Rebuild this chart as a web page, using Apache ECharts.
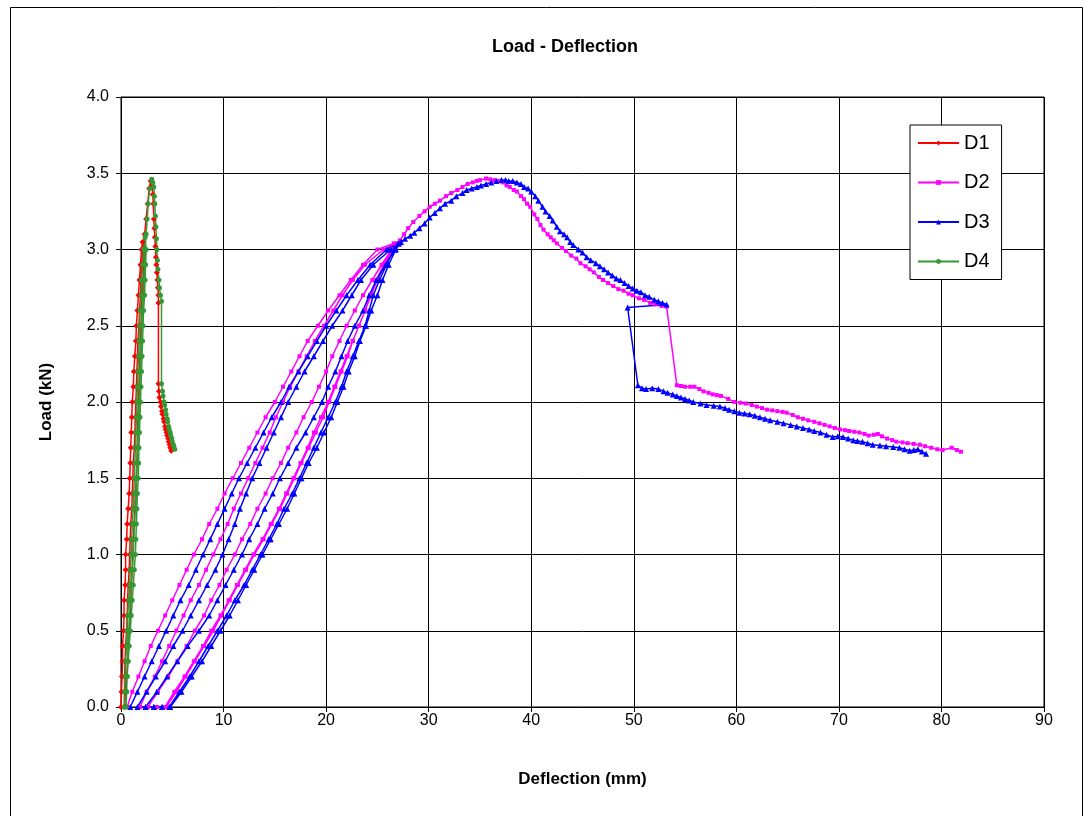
<!DOCTYPE html>
<html>
<head>
<meta charset="utf-8">
<script src="https://cdn.jsdelivr.net/npm/echarts@6/dist/echarts.min.js"></script>
<style>
  html, body { margin: 0; padding: 0; background: #fff; }
  #chart { width: 1084px; height: 816px; }
</style>
</head>
<body>
<div id="chart"></div>
<script>
const seriesNames = ['D1', 'D2', 'D3', 'D4']
const seriesColors = ['#ff0000', '#ff00ff', '#0000ff', '#339933']

// [deflection mm, load kN]
const d1Points = [
  [0.0, 0], [0.05, 0.1], [0.1, 0.2], [0.15, 0.3], [0.15, 0.4], [0.25, 0.5], [0.3, 0.6], [0.3, 0.7],
  [0.4, 0.8], [0.45, 0.9], [0.45, 1.0], [0.55, 1.1], [0.6, 1.2], [0.7, 1.3], [0.8, 1.4], [0.85, 1.5],
  [0.9, 1.6], [0.95, 1.7], [1.0, 1.8], [1.05, 1.9], [1.1, 2.0], [1.2, 2.1], [1.25, 2.2], [1.35, 2.3],
  [1.45, 2.4], [1.5, 2.5], [1.6, 2.6], [1.7, 2.7], [1.8, 2.8], [1.9, 2.9], [2.0, 3.0], [2.1, 3.05],
  [2.3, 3.0], [2.2, 2.9], [2.15, 2.8], [2.05, 2.7], [2.0, 2.6], [1.95, 2.5], [1.9, 2.4], [1.85, 2.3],
  [1.8, 2.2], [1.75, 2.1], [1.7, 2.0], [1.65, 1.9], [1.6, 1.8], [1.6, 1.7], [1.55, 1.6], [1.5, 1.5],
  [1.4, 1.4], [1.35, 1.3], [1.3, 1.2], [1.2, 1.1], [1.15, 1.0], [1.1, 0.9], [1.0, 0.8], [0.95, 0.7],
  [0.9, 0.6], [0.85, 0.5], [0.75, 0.4], [0.65, 0.3], [0.55, 0.2], [0.45, 0.1], [0.35, 0],
  [0.35, 0.1], [0.35, 0.2], [0.4, 0.3], [0.45, 0.4], [0.55, 0.5], [0.6, 0.6], [0.65, 0.7], [0.7, 0.8],
  [0.8, 0.9], [0.85, 1.0], [0.9, 1.1], [0.95, 1.2], [1.05, 1.3], [1.1, 1.4], [1.15, 1.5], [1.2, 1.6],
  [1.3, 1.7], [1.35, 1.8], [1.4, 1.9], [1.45, 2.0], [1.5, 2.1], [1.55, 2.2], [1.6, 2.3], [1.65, 2.4],
  [1.75, 2.5], [1.8, 2.6], [1.9, 2.7], [1.95, 2.8], [2.05, 2.9], [2.15, 3.0], [2.3, 3.1], [2.45, 3.2],
  [2.6, 3.3], [2.75, 3.4], [2.9, 3.45],
  [3.0, 3.42], [3.1, 3.36], [3.15, 3.3], [3.2, 3.2], [3.25, 3.14], [3.3, 3.08], [3.35, 3.02], [3.4, 2.95],
  [3.45, 2.9], [3.5, 2.85], [3.55, 2.8], [3.6, 2.75], [3.65, 2.7], [3.65, 2.65],
  [3.65, 2.12], [3.7, 2.07], [3.75, 2.03], [3.85, 2.0], [3.9, 1.97], [4.0, 1.94], [4.05, 1.92], [4.15, 1.89],
  [4.2, 1.87], [4.3, 1.84], [4.35, 1.82], [4.45, 1.8], [4.5, 1.78], [4.6, 1.76], [4.65, 1.74], [4.75, 1.72],
  [4.8, 1.7], [4.9, 1.68]
]

const d2Points = [
  [0.6, 0], [1.1, 0.1], [1.7, 0.2], [2.3, 0.3], [2.9, 0.4], [3.6, 0.5], [4.3, 0.6], [5.0, 0.7], [5.7, 0.8],
  [6.4, 0.9], [7.1, 1.0], [7.9, 1.1], [8.6, 1.2], [9.4, 1.3], [10.1, 1.4], [10.9, 1.5], [11.7, 1.6],
  [12.5, 1.7], [13.3, 1.8], [14.1, 1.9], [15.0, 2.0], [15.8, 2.1], [16.6, 2.2], [17.4, 2.3], [18.2, 2.4],
  [19.2, 2.5], [20.2, 2.6], [21.3, 2.7], [22.4, 2.8], [23.6, 2.9], [25.0, 3.0], [26.6, 3.04],
  [26.4, 3.0], [25.6, 2.9], [24.9, 2.8], [24.3, 2.7], [23.8, 2.6], [23.2, 2.5], [22.6, 2.4], [22.0, 2.3],
  [21.4, 2.2], [20.8, 2.1], [20.2, 2.0], [19.5, 1.9], [18.8, 1.8], [18.2, 1.7], [17.5, 1.6], [16.8, 1.5],
  [16.1, 1.4], [15.4, 1.3], [14.6, 1.2], [13.8, 1.1], [12.9, 1.0], [12.1, 0.9], [11.3, 0.8], [10.5, 0.7],
  [9.7, 0.6], [8.8, 0.5], [8.0, 0.4], [7.1, 0.3], [6.2, 0.2], [5.2, 0.1], [4.3, 0],
  [3.4, 0], [2.6, 0], [1.85, 0],
  [2.5, 0.1], [3.3, 0.2], [4.0, 0.3], [4.7, 0.4], [5.4, 0.5], [6.1, 0.6], [6.8, 0.7], [7.6, 0.8], [8.3, 0.9],
  [9.0, 1.0], [9.7, 1.1], [10.4, 1.2], [11.0, 1.3], [11.7, 1.4], [12.4, 1.5], [13.1, 1.6], [13.8, 1.7],
  [14.5, 1.8], [15.1, 1.9], [15.8, 2.0], [16.5, 2.1], [17.3, 2.2], [18.1, 2.3], [18.9, 2.4], [19.8, 2.5],
  [20.7, 2.6], [21.6, 2.7], [22.6, 2.8], [23.8, 2.9], [25.6, 3.0], [26.8, 3.04],
  [26.4, 3.0], [25.4, 2.9], [24.5, 2.8], [23.6, 2.7], [22.8, 2.6], [22.0, 2.5], [21.3, 2.4], [20.6, 2.3],
  [20.0, 2.2], [19.3, 2.1], [18.6, 2.0], [17.8, 1.9], [17.1, 1.8], [16.3, 1.7], [15.6, 1.6], [14.8, 1.5],
  [14.1, 1.4], [13.3, 1.3], [12.6, 1.2], [11.8, 1.1], [11.1, 1.0], [10.3, 0.9], [9.6, 0.8], [8.8, 0.7],
  [8.1, 0.6], [7.2, 0.5], [6.4, 0.4], [5.5, 0.3], [4.6, 0.2], [3.6, 0.1], [2.6, 0],
  [3.5, 0], [4.4, 0],
  [5.4, 0.1], [6.3, 0.2], [7.2, 0.3], [8.1, 0.4], [9.0, 0.5], [9.8, 0.6], [10.6, 0.7], [11.4, 0.8],
  [12.2, 0.9], [13.0, 1.0], [13.9, 1.1], [14.7, 1.2], [15.5, 1.3], [16.2, 1.4], [16.9, 1.5], [17.6, 1.6],
  [18.3, 1.7], [19.0, 1.8], [19.7, 1.9], [20.3, 2.0], [20.9, 2.1], [21.5, 2.2], [22.1, 2.3], [22.6, 2.4],
  [23.2, 2.5], [23.8, 2.6], [24.4, 2.7], [25.0, 2.8], [25.7, 2.9], [26.5, 3.0], [27.2, 3.06],
  [27.6, 3.1], [28.0, 3.14], [28.5, 3.18], [29.1, 3.22], [29.6, 3.25], [30.1, 3.28], [30.6, 3.3],
  [31.1, 3.32], [31.7, 3.35], [32.2, 3.37], [32.8, 3.39], [33.3, 3.41], [33.8, 3.43], [34.3, 3.44],
  [34.7, 3.45], [35.0, 3.455], [35.6, 3.465], [36.0, 3.46], [36.4, 3.455], [36.8, 3.45], [37.2, 3.44],
  [37.6, 3.42], [37.9, 3.41], [38.3, 3.39], [38.6, 3.38], [39.0, 3.35], [39.3, 3.33], [39.6, 3.3],
  [39.9, 3.28], [40.3, 3.23], [40.6, 3.2], [40.9, 3.16], [41.2, 3.13], [41.6, 3.1], [41.9, 3.08],
  [42.2, 3.06], [42.5, 3.04], [43.0, 3.01], [43.4, 2.99], [43.9, 2.96], [44.4, 2.94], [44.8, 2.91],
  [45.3, 2.89], [45.7, 2.87], [46.1, 2.85], [46.6, 2.82], [47.0, 2.8], [47.5, 2.78], [48.0, 2.76],
  [48.5, 2.74], [49.0, 2.73], [49.5, 2.71], [49.9, 2.7], [50.5, 2.68], [51.0, 2.67], [51.6, 2.65],
  [52.1, 2.64], [52.7, 2.63], [53.2, 2.625],
  [54.2, 2.11], [54.6, 2.105], [55.0, 2.1], [55.5, 2.1], [55.9, 2.1], [56.4, 2.085], [56.8, 2.07],
  [57.3, 2.06], [57.7, 2.05], [58.1, 2.045], [58.5, 2.04], [59.2, 2.02], [59.8, 2.0], [60.4, 1.995],
  [60.9, 1.99], [61.5, 1.98], [62.0, 1.97], [62.5, 1.96], [63.0, 1.95], [63.5, 1.945], [64.0, 1.94],
  [64.5, 1.935], [64.9, 1.93], [65.5, 1.915], [66.0, 1.9], [66.5, 1.89], [67.0, 1.88], [67.6, 1.87],
  [68.1, 1.86], [68.6, 1.85], [69.1, 1.84], [69.6, 1.83], [70.1, 1.82], [70.6, 1.815], [71.0, 1.81],
  [71.5, 1.805], [72.0, 1.8], [72.5, 1.79], [72.9, 1.78], [73.4, 1.785], [73.8, 1.79], [74.2, 1.775],
  [74.7, 1.76], [75.2, 1.75], [75.6, 1.74], [76.2, 1.735], [76.7, 1.73], [77.3, 1.725], [77.9, 1.72],
  [78.4, 1.71], [79.0, 1.7], [79.6, 1.69], [80.1, 1.685], [81.0, 1.7], [81.5, 1.685], [81.9, 1.674]
]

const d3Points = [
  [0.9, 0], [1.6, 0.1], [2.3, 0.2], [3.0, 0.3], [3.7, 0.4], [4.4, 0.5], [5.1, 0.6], [5.8, 0.7], [6.6, 0.8],
  [7.3, 0.9], [8.0, 1.0], [8.7, 1.1], [9.4, 1.2], [10.1, 1.3], [10.8, 1.4], [11.5, 1.5], [12.3, 1.6],
  [13.1, 1.7], [13.9, 1.8], [14.7, 1.9], [15.6, 2.0], [16.4, 2.1], [17.3, 2.2], [18.2, 2.3], [19.1, 2.4],
  [20.0, 2.5], [21.0, 2.6], [22.0, 2.7], [23.1, 2.8], [24.3, 2.9], [25.9, 3.0], [27.0, 3.04],
  [26.6, 3.0], [25.9, 2.9], [25.2, 2.8], [24.6, 2.7], [24.2, 2.6], [23.8, 2.5], [23.2, 2.4], [22.6, 2.3],
  [22.0, 2.2], [21.5, 2.1], [20.9, 2.0], [20.2, 1.9], [19.5, 1.8], [18.8, 1.7], [18.1, 1.6], [17.4, 1.5],
  [16.7, 1.4], [15.9, 1.3], [15.2, 1.2], [14.4, 1.1], [13.6, 1.0], [12.8, 0.9], [12.0, 0.8], [11.1, 0.7],
  [10.3, 0.6], [9.4, 0.5], [8.5, 0.4], [7.6, 0.3], [6.7, 0.2], [5.7, 0.1], [4.7, 0],
  [4.0, 0], [3.2, 0], [2.4, 0], [1.6, 0],
  [2.5, 0.1], [3.4, 0.2], [4.3, 0.3], [5.1, 0.4], [6.0, 0.5], [6.8, 0.6], [7.6, 0.7], [8.4, 0.8], [9.2, 0.9],
  [9.9, 1.0], [10.5, 1.1], [11.1, 1.2], [11.6, 1.3], [12.2, 1.4], [12.8, 1.5], [13.5, 1.6], [14.2, 1.7],
  [14.9, 1.8], [15.6, 1.9], [16.3, 2.0], [17.1, 2.1], [17.9, 2.2], [18.8, 2.3], [19.7, 2.4], [20.6, 2.5],
  [21.6, 2.6], [22.5, 2.7], [23.4, 2.8], [24.6, 2.9], [26.3, 3.0], [27.1, 3.04],
  [26.7, 3.0], [25.8, 2.9], [24.9, 2.8], [24.2, 2.7], [23.6, 2.6], [22.8, 2.5], [22.1, 2.4], [21.5, 2.3],
  [20.9, 2.2], [20.2, 2.1], [19.6, 2.0], [18.8, 1.9], [18.0, 1.8], [17.1, 1.7], [16.3, 1.6], [15.5, 1.5],
  [14.8, 1.4], [14.0, 1.3], [13.3, 1.2], [12.5, 1.1], [11.8, 1.0], [11.0, 0.9], [10.2, 0.8], [9.4, 0.7],
  [8.6, 0.6], [7.6, 0.5], [6.5, 0.4], [5.5, 0.3], [4.5, 0.2], [3.5, 0.1], [2.4, 0],
  [3.2, 0], [4.0, 0], [4.8, 0],
  [5.9, 0.1], [6.9, 0.2], [7.9, 0.3], [8.8, 0.4], [9.7, 0.5], [10.6, 0.6], [11.4, 0.7], [12.2, 0.8],
  [13.0, 0.9], [13.8, 1.0], [14.6, 1.1], [15.4, 1.2], [16.2, 1.3], [16.9, 1.4], [17.6, 1.5], [18.3, 1.6],
  [19.1, 1.7], [19.8, 1.8], [20.5, 1.9], [21.1, 2.0], [21.7, 2.1], [22.2, 2.2], [22.8, 2.3], [23.3, 2.4],
  [23.9, 2.5], [24.4, 2.6], [25.0, 2.7], [25.5, 2.8], [26.1, 2.9], [26.8, 3.0], [27.3, 3.05],
  [27.7, 3.07], [28.2, 3.09], [28.6, 3.11], [29.1, 3.14], [29.6, 3.17], [30.1, 3.21], [30.6, 3.24],
  [31.1, 3.27], [31.6, 3.3], [32.2, 3.32], [32.7, 3.35], [33.3, 3.37], [33.7, 3.39], [34.2, 3.4],
  [34.7, 3.41], [35.1, 3.42], [35.6, 3.43], [36.1, 3.44], [36.6, 3.45], [37.1, 3.456], [37.5, 3.455],
  [37.8, 3.45], [38.2, 3.45], [38.6, 3.44], [39.0, 3.43], [39.3, 3.41], [39.7, 3.4], [40.0, 3.38],
  [40.4, 3.35], [40.7, 3.32], [41.1, 3.28], [41.4, 3.25], [41.8, 3.22], [42.1, 3.19], [42.5, 3.15],
  [42.8, 3.12], [43.2, 3.1], [43.5, 3.08], [43.8, 3.05], [44.1, 3.03], [44.6, 3.0], [45.0, 2.98],
  [45.4, 2.95], [45.8, 2.93], [46.3, 2.91], [46.7, 2.89], [47.1, 2.87], [47.5, 2.85], [47.9, 2.83],
  [48.3, 2.81], [48.7, 2.8], [49.1, 2.78], [49.5, 2.76], [49.9, 2.745], [50.3, 2.73], [50.7, 2.72],
  [51.1, 2.7], [51.5, 2.69], [52.0, 2.67], [52.4, 2.66], [52.8, 2.65], [53.2, 2.64],
  [49.4, 2.62], [50.4, 2.11],
  [50.8, 2.09], [51.2, 2.085], [51.8, 2.09], [52.4, 2.085], [52.9, 2.07], [53.3, 2.06], [53.8, 2.05],
  [54.2, 2.04], [54.6, 2.03], [55.0, 2.02], [55.4, 2.01], [55.8, 2.0], [56.5, 1.99], [57.1, 1.98],
  [57.8, 1.975], [58.4, 1.97], [58.9, 1.96], [59.3, 1.95], [59.8, 1.94], [60.3, 1.93], [60.8, 1.925],
  [61.3, 1.92], [61.8, 1.91], [62.3, 1.9], [62.8, 1.89], [63.3, 1.88], [64.0, 1.87], [64.6, 1.86],
  [65.3, 1.85], [65.9, 1.84], [66.5, 1.83], [67.1, 1.82], [67.6, 1.81], [68.2, 1.8], [68.8, 1.785],
  [69.4, 1.77], [69.9, 1.775], [70.4, 1.77], [70.9, 1.76], [71.4, 1.75], [71.8, 1.745], [72.3, 1.74],
  [72.8, 1.73], [73.3, 1.72], [74.0, 1.715], [74.6, 1.71], [75.3, 1.705], [75.9, 1.7], [76.4, 1.69],
  [76.9, 1.68], [77.3, 1.685], [77.7, 1.69], [78.1, 1.675], [78.5, 1.66]
]

const d4Points = [
  [0.3, 0], [0.35, 0.1], [0.4, 0.2], [0.45, 0.3], [0.55, 0.4], [0.6, 0.5], [0.65, 0.6], [0.75, 0.7],
  [0.85, 0.8], [0.9, 0.9], [1.0, 1.0], [1.05, 1.1], [1.1, 1.2], [1.2, 1.3], [1.25, 1.4], [1.3, 1.5],
  [1.35, 1.6], [1.4, 1.7], [1.45, 1.8], [1.5, 1.9], [1.55, 2.0], [1.6, 2.1], [1.65, 2.2], [1.7, 2.3],
  [1.75, 2.4], [1.8, 2.5], [1.85, 2.6], [1.95, 2.7], [2.0, 2.8], [2.1, 2.9], [2.2, 3.0], [2.35, 3.08],
  [2.45, 3.0], [2.4, 2.9], [2.35, 2.8], [2.3, 2.7], [2.2, 2.6], [2.15, 2.5], [2.1, 2.4], [2.05, 2.3],
  [2.0, 2.2], [1.95, 2.1], [1.9, 2.0], [1.85, 1.9], [1.8, 1.8], [1.75, 1.7], [1.72, 1.6], [1.68, 1.5],
  [1.6, 1.4], [1.55, 1.3], [1.5, 1.2], [1.45, 1.1], [1.4, 1.0], [1.3, 0.9], [1.2, 0.8], [1.1, 0.7],
  [1.0, 0.6], [0.9, 0.5], [0.8, 0.4], [0.7, 0.3], [0.6, 0.2], [0.55, 0.1], [0.5, 0],
  [0.55, 0.1], [0.6, 0.2], [0.65, 0.3], [0.7, 0.4], [0.75, 0.5], [0.85, 0.6], [0.9, 0.7], [1.0, 0.8],
  [1.1, 0.9], [1.2, 1.0], [1.25, 1.1], [1.3, 1.2], [1.4, 1.3], [1.45, 1.4], [1.5, 1.5], [1.55, 1.6],
  [1.6, 1.7], [1.65, 1.8], [1.7, 1.9], [1.75, 2.0], [1.8, 2.1], [1.85, 2.2], [1.9, 2.3], [1.95, 2.4],
  [2.0, 2.5], [2.05, 2.6], [2.15, 2.7], [2.2, 2.8], [2.3, 2.9], [2.35, 3.0], [2.45, 3.1], [2.55, 3.2],
  [2.65, 3.3], [2.8, 3.4], [3.0, 3.46],
  [3.1, 3.44], [3.2, 3.41], [3.25, 3.35], [3.3, 3.3], [3.35, 3.22], [3.4, 3.15], [3.45, 3.07], [3.5, 3.0],
  [3.55, 2.93], [3.6, 2.87], [3.7, 2.8], [3.75, 2.75], [3.85, 2.7], [3.95, 2.66],
  [3.95, 2.12], [4.05, 2.07], [4.1, 2.04], [4.2, 2.0], [4.25, 1.98], [4.35, 1.95], [4.4, 1.92], [4.5, 1.89],
  [4.55, 1.87], [4.65, 1.84], [4.7, 1.82], [4.8, 1.8], [4.85, 1.78], [4.95, 1.76], [5.0, 1.74], [5.1, 1.72],
  [5.15, 1.71], [5.25, 1.69]
]

const seriesData = [d1Points, d2Points, d3Points, d4Points]
const seriesSymbols = ['diamond', 'rect', 'triangle', 'circle']
const seriesSymbolSizes = [6, 4, 6, 5]

const font = 'Liberation Sans, Arial, sans-serif'
const chart = echarts.init(document.getElementById('chart'), null, { renderer: 'canvas' })

const option = {
  animation: false,
  backgroundColor: '#fff',
  graphic: [
    {
      type: 'rect',
      shape: { x: 10.5, y: 7.5, width: 1072, height: 820 },
      style: { fill: 'none', stroke: '#000', lineWidth: 1 },
      silent: true
    },
    {
      type: 'text',
      x: 565,
      y: 47,
      style: {
        text: 'Load - Deflection',
        font: 'bold 18px ' + font,
        fill: '#000',
        textAlign: 'center',
        textVerticalAlign: 'middle'
      }
    }
  ],
  grid: {
    left: 121,
    top: 97,
    width: 923,
    height: 610,
    show: true,
    borderColor: '#000',
    borderWidth: 1,
    backgroundColor: '#fff'
  },
  legend: {
    data: seriesNames,
    orient: 'vertical',
    left: 910,
    top: 125,
    itemWidth: 41,
    itemHeight: 6,
    itemGap: 19.5,
    padding: [8, 12, 8, 7],
    backgroundColor: '#fff',
    borderColor: '#000',
    borderWidth: 1,
    borderRadius: 0,
    textStyle: { fontFamily: font, fontSize: 20, color: '#000', lineHeight: 20 }
  },
  xAxis: {
    type: 'value',
    min: 0,
    max: 90,
    interval: 10,
    name: 'Deflection (mm)',
    nameLocation: 'middle',
    nameGap: 64,
    nameTextStyle: { fontFamily: font, fontSize: 17, fontWeight: 'bold', color: '#000' },
    axisLine: { show: true, lineStyle: { color: '#000', width: 1 } },
    axisTick: { show: true, length: 5, lineStyle: { color: '#000' } },
    axisLabel: { fontFamily: font, fontSize: 16, color: '#000', margin: 6 },
    splitLine: { show: true, lineStyle: { color: '#000', width: 1 } }
  },
  yAxis: {
    type: 'value',
    min: 0,
    max: 4,
    interval: 0.5,
    name: 'Load (kN)',
    nameLocation: 'middle',
    nameGap: 66,
    nameTextStyle: { fontFamily: font, fontSize: 17, fontWeight: 'bold', color: '#000' },
    axisLine: { show: true, lineStyle: { color: '#000', width: 1 } },
    axisTick: { show: true, length: 5, lineStyle: { color: '#000' } },
    axisLabel: {
      fontFamily: font, fontSize: 16, color: '#000', margin: 12,
      formatter: v => v.toFixed(1)
    },
    splitLine: { show: true, lineStyle: { color: '#000', width: 1 } }
  },
  series: seriesNames.map((name, i) => ({
    name,
    type: 'line',
    data: seriesData[i],
    symbol: seriesSymbols[i],
    symbolSize: seriesSymbolSizes[i],
    showSymbol: true,
    clip: true,
    color: seriesColors[i],
    lineStyle: { color: seriesColors[i], width: 1.5 },
    itemStyle: { color: seriesColors[i] },
    emphasis: { disabled: true }
  }))
}

chart.setOption(option)
</script>
</body>
</html>
